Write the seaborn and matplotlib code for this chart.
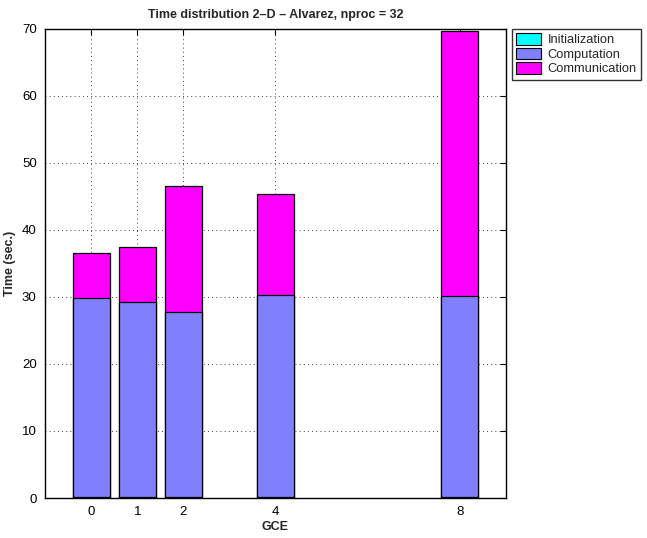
import matplotlib
matplotlib.use("Agg")
import matplotlib.pyplot as plt
from matplotlib.patches import Patch
import pandas as pd
import seaborn as sns

# values
gce = [0, 1, 2, 4, 8]
initialization = [0.15, 0.15, 0.15, 0.15, 0.15]
computation = [29.65, 29.15, 27.55, 30.15, 30.05]
communication = [6.7, 8.1, 18.8, 15.1, 39.5]

colors = {"Initialization": "#00FFFF", "Computation": "#8080FF", "Communication": "#FF00FF"}

df = pd.DataFrame({"GCE": gce, "init": initialization, "comp": computation, "comm": communication})
df["lvl_init"] = df["init"]
df["lvl_comp"] = df["init"] + df["comp"]
df["lvl_comm"] = df["lvl_comp"] + df["comm"]

sns.set_style("white")
plt.rcParams["font.family"] = ["Liberation Sans", "DejaVu Sans"]

fig = plt.figure(figsize=(6.47, 5.38), dpi=100)
ax = fig.add_axes([0.0696, 0.0743, 0.7124, 0.8724])

# stacked bars: draw cumulative totals back to front
for col, name in [("lvl_comm", "Communication"), ("lvl_comp", "Computation"), ("lvl_init", "Initialization")]:
    sns.barplot(data=df, x="GCE", y=col, native_scale=True, width=0.8, color=colors[name],
                edgecolor="black", linewidth=0.9, saturation=1, errorbar=None, ax=ax, zorder=3)

ax.set_xlim(-1, 9)
ax.set_ylim(0, 70)
ax.set_xticks(gce)
ax.set_xticklabels([str(g) for g in gce])
ax.set_yticks(range(0, 71, 10))

ax.grid(True, color="black", linestyle=(0, (1, 4)), linewidth=0.6, zorder=0)
ax.set_axisbelow(True)
ax.tick_params(direction="in", length=4, width=0.8, labelsize=9.5, colors="black", top=True, right=True,
               pad=6)
for spine in ax.spines.values():
    spine.set_visible(True)
    spine.set_edgecolor("black")
    spine.set_linewidth(1.0)

ax.set_xlabel("GCE", fontsize=9, fontweight="bold", labelpad=2)
ax.set_ylabel("Time (sec.)", fontsize=9, fontweight="bold", labelpad=4)
ax.set_title("Time distribution 2\u2013D \u2013 Alvarez, nproc = 32", fontsize=9, fontweight="bold", pad=8)

handles = [Patch(facecolor=colors[n], edgecolor="black", linewidth=0.8)
           for n in ["Initialization", "Computation", "Communication"]]
leg = ax.legend(handles, ["Initialization", "Computation", "Communication"], loc="upper left",
                bbox_to_anchor=(1.013, 1.0), fontsize=9.3, frameon=True, fancybox=False,
                borderaxespad=0, handlelength=1.9, handleheight=1.0, handletextpad=0.5,
                labelspacing=0.1, borderpad=0.35)
leg.get_frame().set_edgecolor("black")
leg.get_frame().set_linewidth(1.0)

fig.savefig("out.png", dpi=100, facecolor="white")
